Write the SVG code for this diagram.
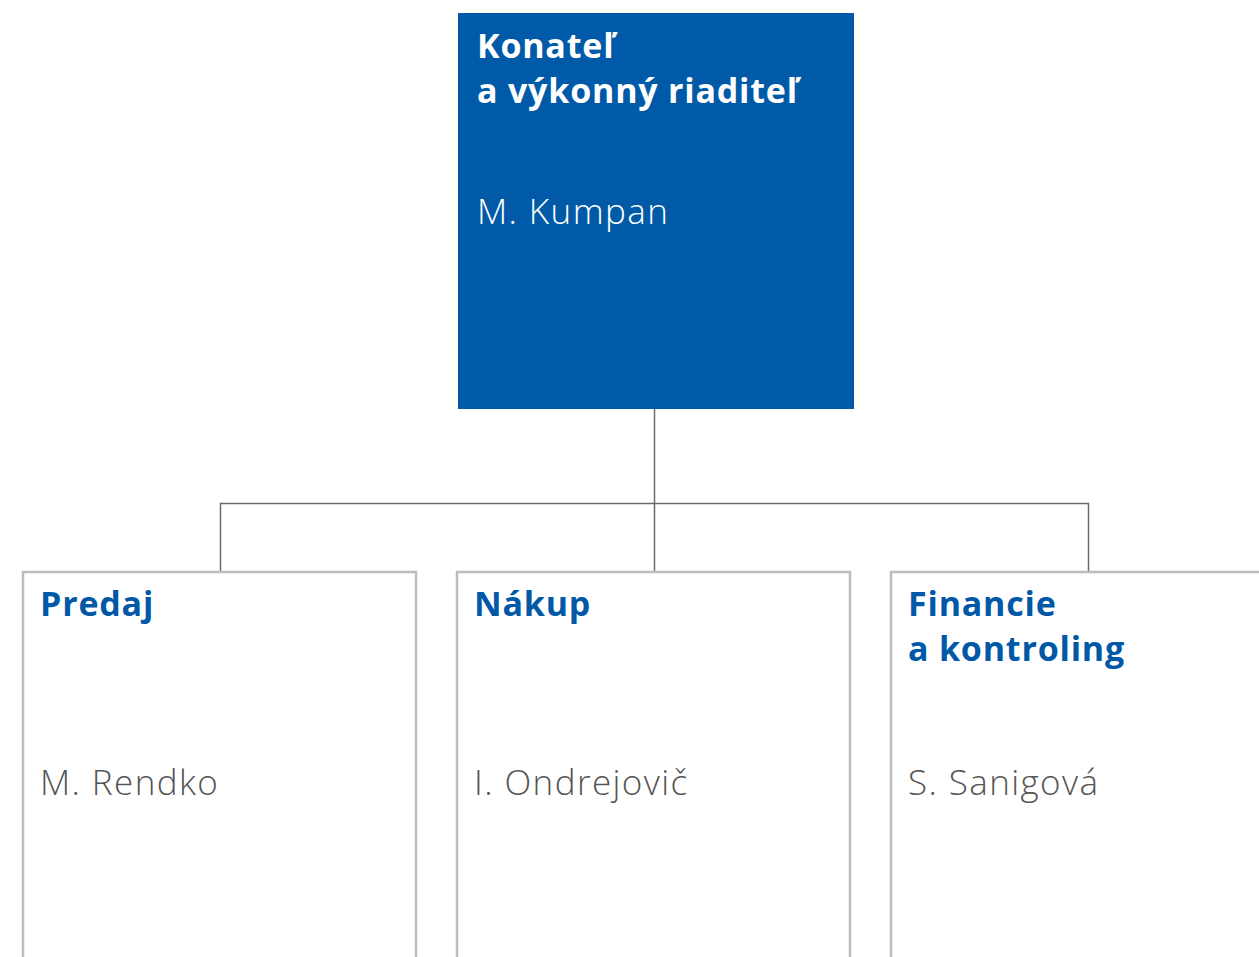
<svg xmlns="http://www.w3.org/2000/svg" width="1259" height="957" viewBox="0 0 1259 957">
<style>
.title{font-family:"Open Sans","Noto Sans",sans-serif;font-weight:700;font-size:34px;letter-spacing:0.8px}
.name{font-family:"Open Sans","Noto Sans",sans-serif;font-weight:300;font-size:35px;letter-spacing:1.4px}
.box{fill:#ffffff;stroke:#bdbdbd;stroke-width:2.5}
.conn{fill:none;stroke:#6b6b6b;stroke-width:1.5}
</style>
<rect width="1259" height="957" fill="#ffffff"/>
<g id="connectors">
<path class="conn" d="M654.5 409V571M220.5 571V503.5H1088.5V571"/>
</g>
<g id="ceo">
<rect x="458" y="13" width="396" height="396" fill="#005aa8"/>
<text class="title" fill="#ffffff" x="477" y="58">Konateľ</text>
<text class="title" fill="#ffffff" x="477" y="103">a výkonný riaditeľ</text>
<text class="name" fill="#ffffff" x="477" y="224">M. Kumpan</text>
</g>
<g id="predaj">
<rect class="box" x="23" y="572" width="393" height="400"/>
<text class="title" fill="#0058a6" x="40" y="616">Predaj</text>
<text class="name" fill="#555555" x="40" y="795">M. Rendko</text>
</g>
<g id="nakup">
<rect class="box" x="457" y="572" width="393" height="400"/>
<text class="title" fill="#0058a6" x="474" y="616">Nákup</text>
<text class="name" fill="#555555" x="474" y="795">I. Ondrejovič</text>
</g>
<g id="financie">
<rect class="box" x="891" y="572" width="393" height="400"/>
<text class="title" fill="#0058a6" x="908" y="616">Financie</text>
<text class="title" fill="#0058a6" x="908" y="661">a kontroling</text>
<text class="name" fill="#555555" x="908" y="795">S. Sanigová</text>
</g>
</svg>
